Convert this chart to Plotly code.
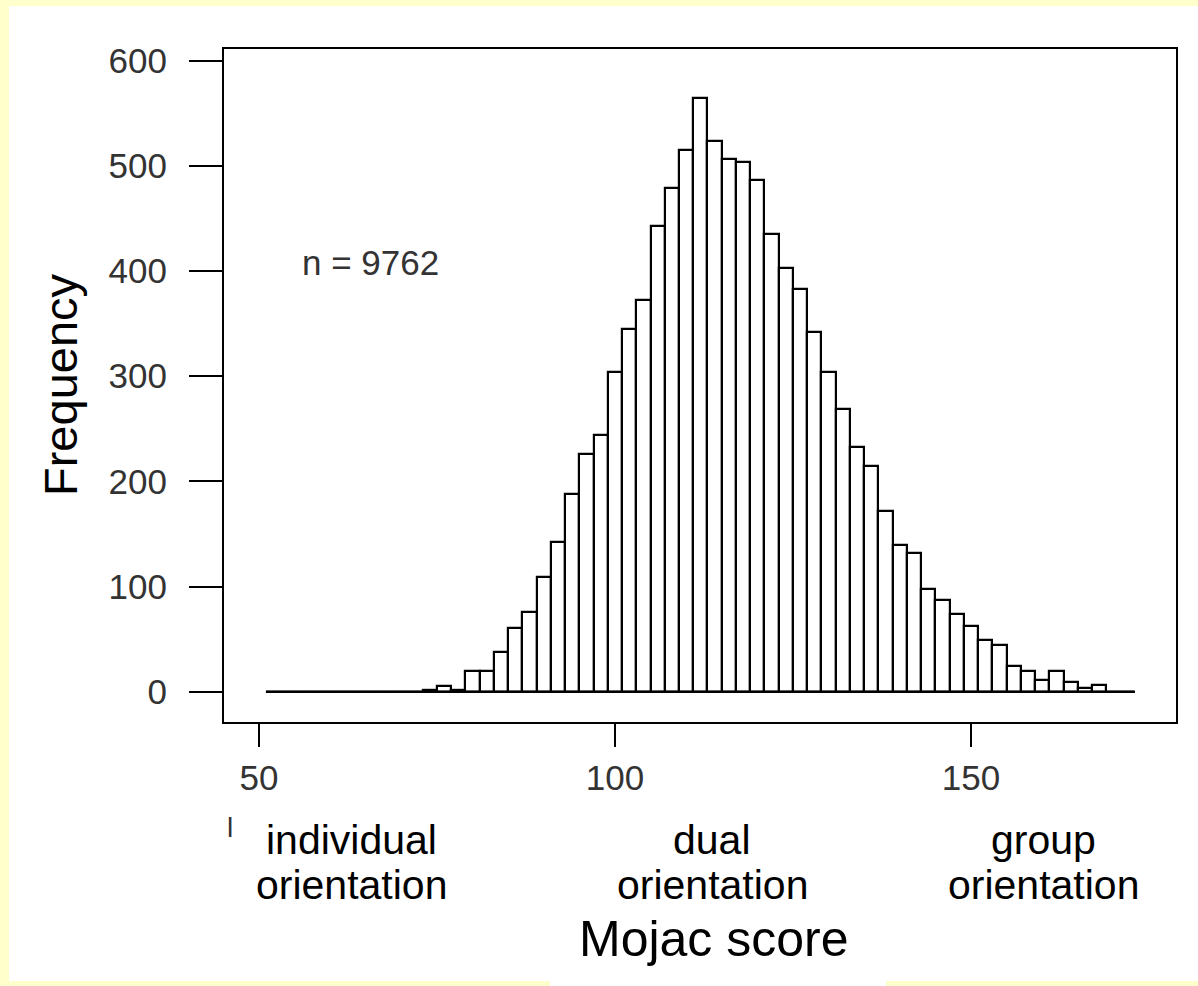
import plotly.graph_objects as go

# ---- data ----
bin_start = 51
bin_width = 2
counts = [0, 0, 0, 0, 0, 0, 0, 0, 0, 0, 0,          # 51 .. 71
          2, 5, 2, 20, 20, 38, 61, 76, 109, 142,    # 73 .. 91
          188, 226, 244, 304, 345, 372, 443, 479, 515, 564,   # 93 .. 111
          524, 506, 504, 486, 435, 403, 383, 342, 304, 269,   # 113 .. 131
          233, 215, 172, 139, 132, 98, 87, 74, 62, 49,        # 133 .. 151
          44, 24, 20, 11, 20, 9, 4, 6,                        # 153 .. 167
          0, 0]                                               # 169 .. 171
x_ticks = [50, 100, 150]
y_ticks = [0, 100, 200, 300, 400, 500, 600]
n_label = "n = 9762"
x_title = "Mojac score"
y_title = "Frequency"
region_labels = [("individual", "orientation"),
                 ("dual", "orientation"),
                 ("group", "orientation")]

edges = [bin_start + i * bin_width for i in range(len(counts) + 1)]
centers = [e + bin_width / 2 for e in edges[:-1]]

W, H = 1198, 986
L, R, T, B = 224, 1176, 49, 722

fig = go.Figure()
fig.add_trace(go.Bar(x=centers, y=counts, width=bin_width,
                     marker=dict(color="white", line=dict(color="black", width=2.2)),
                     showlegend=False, hoverinfo="x+y"))
fig.add_trace(go.Scatter(x=[edges[0], edges[-1]], y=[0, 0], mode="lines",
                         line=dict(color="black", width=2.2), showlegend=False,
                         hoverinfo="skip"))

tick_font = dict(family="Liberation Sans, Arial, sans-serif", size=35, color="#333333")
fig.update_xaxes(range=[45.1, 178.8], tickvals=x_ticks, ticks="outside", ticklen=23,
                 tickwidth=2, tickcolor="black", showline=True, linecolor="black",
                 linewidth=2, mirror=True, showgrid=False, zeroline=False,
                 tickfont=tick_font, ticklabelstandoff=1)
fig.update_yaxes(range=[-28.8, 611], tickvals=y_ticks, ticks="outside", ticklen=33,
                 tickwidth=2, tickcolor="black", showline=True, linecolor="black",
                 linewidth=2, mirror=True, showgrid=False, zeroline=False,
                 tickfont=tick_font, ticklabelstandoff=15)

def px(xp):
    return (xp - L) / (R - L)

def py(yp):
    return (B - yp) / (B - T)

ann = []
ann.append(dict(text=n_label, x=55.8, y=408, xref="x", yref="y", xanchor="left",
                yanchor="middle", showarrow=False, font=tick_font))
ann.append(dict(text=y_title, x=px(60), y=py(385), xref="paper", yref="paper",
                textangle=-90, showarrow=False, xanchor="center", yanchor="middle",
                font=dict(family="Liberation Sans, Arial, sans-serif", size=47, color="black")))
lab_font = dict(family="Liberation Sans, Arial, sans-serif", size=41, color="black")
centers_px = [351, 712, 1043]
for (l1, l2), cx in zip(region_labels, centers_px):
    ann.append(dict(text=l1, x=px(cx), y=py(840), xref="paper", yref="paper",
                    showarrow=False, xanchor="center", yanchor="middle", font=lab_font))
    ann.append(dict(text=l2, x=px(cx), y=py(885), xref="paper", yref="paper",
                    showarrow=False, xanchor="center", yanchor="middle", font=lab_font))
ann.append(dict(text=x_title, x=px(714), y=py(939), xref="paper", yref="paper",
                showarrow=False, xanchor="center", yanchor="middle",
                font=dict(family="Liberation Sans, Arial, sans-serif", size=50, color="black")))
ann.append(dict(text="l", x=px(230), y=py(828), xref="paper", yref="paper",
                showarrow=False, xanchor="center", yanchor="middle",
                font=dict(family="Liberation Sans, Arial, sans-serif", size=28, color="#333333")))

shapes = [
    dict(type="rect", xref="paper", yref="paper", x0=px(9), x1=px(W + 5), y0=py(981), y1=py(6),
         fillcolor="white", line=dict(width=0), layer="below"),
    dict(type="rect", xref="paper", yref="paper", x0=px(550), x1=px(886), y0=py(H + 5), y1=py(960),
         fillcolor="white", line=dict(width=0), layer="below"),
]

fig.update_layout(width=W, height=H, margin=dict(l=L, r=W - R, t=T, b=H - B),
                  paper_bgcolor="#FFFFCC", plot_bgcolor="white",
                  annotations=ann, shapes=shapes, bargap=0)
fig.write_html("out.html", config={"displayModeBar": False},
               post_script="document.body.style.margin='0';")
